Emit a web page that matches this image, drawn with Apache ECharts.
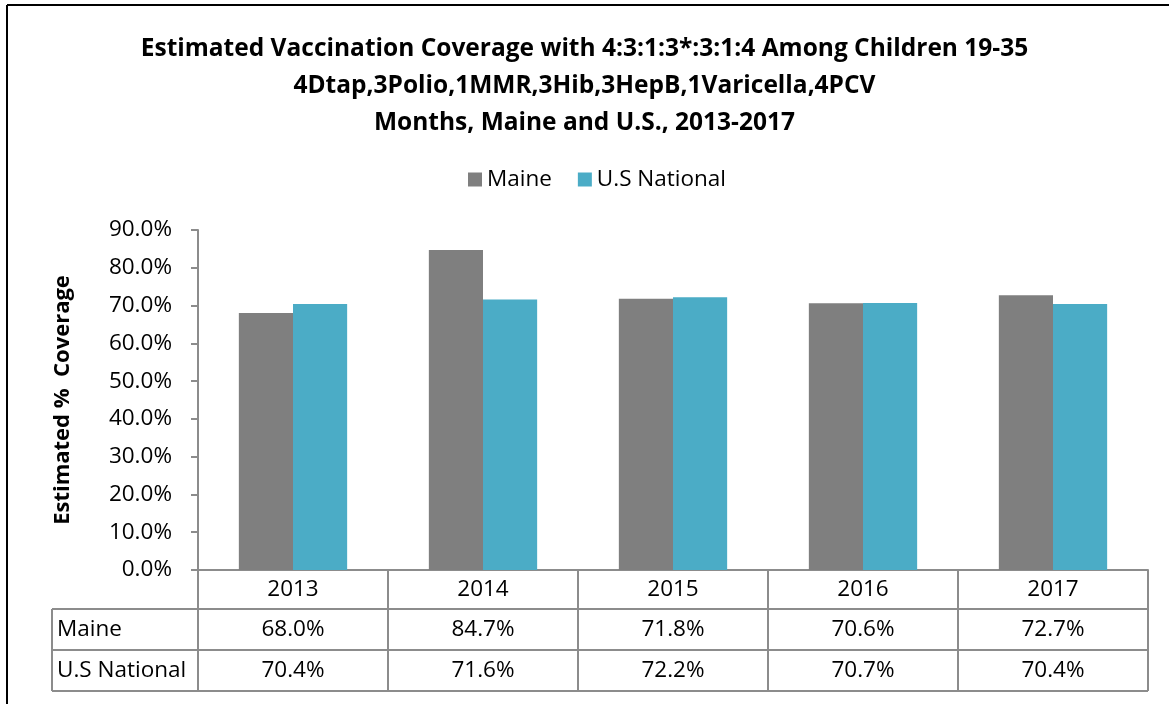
<!DOCTYPE html>
<html>
<head>
<meta charset="utf-8">
<script src="https://cdn.jsdelivr.net/npm/echarts@6/dist/echarts.min.js"></script>
<style>
  html, body { margin: 0; padding: 0; background: #fff; }
  #chart { width: 1169px; height: 704px; }
</style>
</head>
<body>
<div id="chart"></div>
<script>
const years = ['2013', '2014', '2015', '2016', '2017']
const maine = [68.0, 84.7, 71.8, 70.6, 72.7]
const usNational = [70.4, 71.6, 72.2, 70.7, 70.4]
const seriesNames = ['Maine', 'U.S National']
const yTicks = [0, 10, 20, 30, 40, 50, 60, 70, 80, 90]

const font = '"Open Sans", Lato, sans-serif'
const lineColor = '#8c8c8c'
const fs = 22.5
const pct = v => v.toFixed(1) + '%'

const chart = echarts.init(document.getElementById('chart'))

chart.setOption({
  animation: false,
  textStyle: { fontFamily: font },
  title: {
    text: 'Estimated Vaccination Coverage with 4:3:1:3*:3:1:4 Among Children 19-35\n4Dtap,3Polio,1MMR,3Hib,3HepB,1Varicella,4PCV\nMonths, Maine and U.S., 2013-2017',
    left: 'center',
    top: 26,
    textStyle: { fontSize: 24.5, fontWeight: 'bold', color: '#000', lineHeight: 37, fontFamily: font }
  },
  legend: {
    data: seriesNames,
    top: 163,
    left: 463,
    itemWidth: 14,
    itemHeight: 14,
    itemGap: 26,
    icon: 'rect',
    textStyle: { fontSize: fs, color: '#000', fontFamily: font }
  },
  grid: { left: 198, right: 21, top: 230, bottom: 134 },
  xAxis: {
    type: 'category',
    data: years,
    axisLine: { lineStyle: { color: lineColor, width: 2 } },
    axisTick: { alignWithLabel: false, length: 39, lineStyle: { color: lineColor, width: 2 } },
    axisLabel: { fontSize: fs, color: '#000', margin: 8, fontFamily: font }
  },
  yAxis: {
    type: 'value',
    min: 0,
    max: 90,
    interval: 10,
    name: 'Estimated %  Coverage',
    nameLocation: 'middle',
    nameRotate: 90,
    nameGap: 124,
    nameTextStyle: { fontSize: 22, fontWeight: 'bold', color: '#000', fontFamily: font },
    axisLine: { show: true, lineStyle: { color: lineColor, width: 2 } },
    axisTick: { show: true, length: 7, lineStyle: { color: lineColor, width: 2 } },
    splitLine: { show: false },
    axisLabel: {
      fontSize: fs, color: '#000', margin: 26, fontFamily: font,
      formatter: v => yTicks.includes(v) ? pct(v) : ''
    }
  },
  series: [
    { name: seriesNames[0], type: 'bar', data: maine, barGap: '0%', barCategoryGap: '43%', itemStyle: { color: '#7f7f7f' } },
    { name: seriesNames[1], type: 'bar', data: usNational, barGap: '0%', barCategoryGap: '43%', itemStyle: { color: '#4bacc6' } }
  ]
})

// data table under the axis, laid out from the axis positions
const c0 = chart.convertToPixel({ xAxisIndex: 0 }, 0)
const c1 = chart.convertToPixel({ xAxisIndex: 0 }, 1)
const cw = c1 - c0
const axisY = chart.convertToPixel({ yAxisIndex: 0 }, 0)
const headerH = 39
const rowH = 41
const tableLeft = 52
const gridLeft = c0 - cw / 2
const gridRight = gridLeft + cw * years.length
const rows = [maine, usNational]
const lineStyle = { stroke: lineColor, lineWidth: 2 }
const els = []

rows.forEach((vals, r) => {
  const top = axisY + headerH + r * rowH
  els.push({ type: 'line', shape: { x1: tableLeft, y1: top, x2: gridRight, y2: top }, style: lineStyle })
  els.push({
    type: 'text', x: tableLeft + 5, y: top + rowH / 2,
    style: { text: seriesNames[r], fontSize: fs, fill: '#000', fontFamily: font, verticalAlign: 'middle' }
  })
  vals.forEach((v, i) => {
    els.push({
      type: 'text', x: c0 + i * cw, y: top + rowH / 2,
      style: { text: pct(v), fontSize: fs, fill: '#000', fontFamily: font, align: 'center', verticalAlign: 'middle' }
    })
  })
})
const bottom = axisY + headerH + rows.length * rowH
els.push({ type: 'line', shape: { x1: tableLeft, y1: bottom, x2: gridRight, y2: bottom }, style: lineStyle })
els.push({ type: 'line', shape: { x1: tableLeft, y1: axisY + headerH, x2: tableLeft, y2: bottom }, style: lineStyle })
for (let i = 0; i <= years.length; i++) {
  const x = gridLeft + i * cw
  els.push({ type: 'line', shape: { x1: x, y1: axisY, x2: x, y2: bottom }, style: lineStyle })
}
// outer frame (top and left edges visible)
els.push({ type: 'line', shape: { x1: 7, y1: 5, x2: 1169, y2: 5 }, style: { stroke: '#000', lineWidth: 2 } })
els.push({ type: 'line', shape: { x1: 7, y1: 5, x2: 7, y2: 704 }, style: { stroke: '#000', lineWidth: 2 } })

chart.setOption({ graphic: els })
</script>
</body>
</html>
